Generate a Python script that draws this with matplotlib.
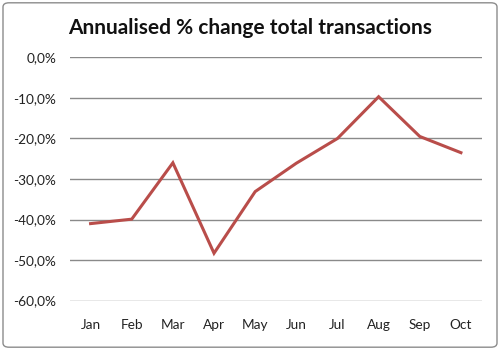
import matplotlib
matplotlib.use("Agg")
import matplotlib.pyplot as plt
from matplotlib.patches import FancyBboxPatch
from matplotlib.ticker import FuncFormatter

plt.rcParams["font.family"] = ["Lato", "DejaVu Sans"]

# monthly data
months = ["Jan", "Feb", "Mar", "Apr", "May", "Jun", "Jul", "Aug", "Sep", "Oct"]
pct_change = [-41.0, -39.9, -26.0, -48.3, -33.1, -26.1, -20.0, -9.7, -19.5, -23.5]
y_ticks = [0, -10, -20, -30, -40, -50, -60]

fig = plt.figure(figsize=(5, 3.5), dpi=100)
ax = fig.add_axes([0.14, 0.141, 0.823, 0.695])

# chart border
border = FancyBboxPatch((0.006, 0.008), 0.988, 0.984,
                        boxstyle="round,pad=0,rounding_size=0.012",
                        transform=fig.transFigure, facecolor="none",
                        edgecolor="#8c8c8c", linewidth=1.0)
fig.patches.append(border)

x = list(range(len(months)))
ax.plot(x, pct_change, color="#B94D4A", linewidth=2.2, solid_joinstyle="miter")

ax.set_xlim(-0.5, len(months) - 0.5)
ax.set_ylim(-60, 0)
ax.set_yticks(y_ticks)
ax.yaxis.set_major_formatter(FuncFormatter(lambda v, _: f"{v:.1f}%".replace(".", ",")))
ax.set_xticks(x)
ax.set_xticklabels(months)

ax.grid(axis="y", color="#8a8a8a", linewidth=1.0)
ax.set_axisbelow(True)
for s in ax.spines.values():
    s.set_visible(False)
ax.tick_params(length=0, labelsize=9.8, colors="#222222", pad=10)
ax.tick_params(axis="x", pad=13)

fig.text(0.5, 0.92, "Annualised % change total transactions",
         ha="center", va="center", fontsize=15, fontweight="bold", color="#111111")

fig.savefig("out.png", dpi=100)
plt.close(fig)
